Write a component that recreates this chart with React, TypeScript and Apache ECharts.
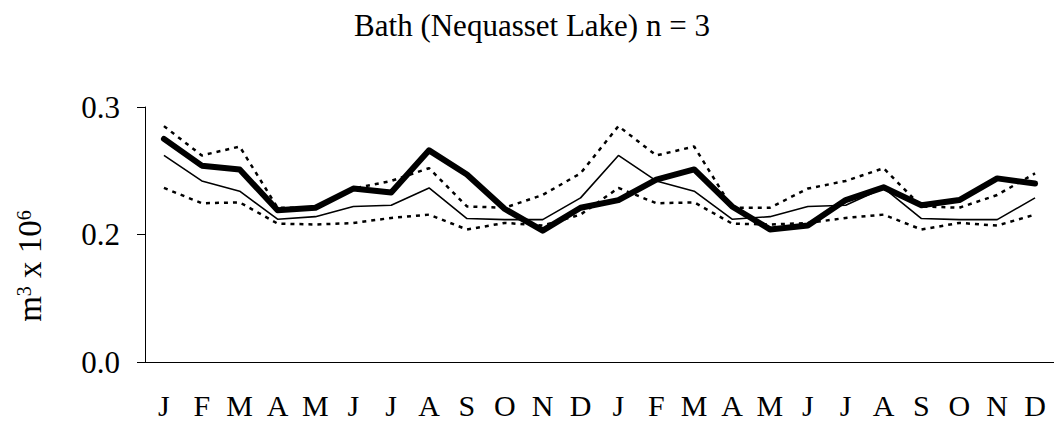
import React, { useEffect, useRef } from "react";
import * as echarts from "echarts";

const months = ["J","F","M","A","M","J","J","A","S","O","N","D","J","F","M","A","M","J","J","A","S","O","N","D"];
const observed = [0.275,0.254,0.251,0.219,0.221,0.236,0.233,0.266,0.247,0.220,0.203,0.221,0.227,0.243,0.251,0.222,0.204,0.207,0.227,0.237,0.223,0.227,0.244,0.240];
const meanVals = [0.262,0.242,0.234,0.212,0.214,0.222,0.223,0.2365,0.2125,0.2117,0.2117,0.2287,0.262,0.242,0.234,0.212,0.214,0.222,0.223,0.2365,0.2125,0.2117,0.2117,0.2287];
const upperVals = [0.285,0.262,0.269,0.221,0.221,0.236,0.242,0.252,0.222,0.221,0.231,0.248,0.285,0.262,0.269,0.221,0.221,0.236,0.242,0.252,0.222,0.221,0.231,0.248];
const lowerVals = [0.2365,0.2245,0.2252,0.2086,0.2078,0.209,0.213,0.2156,0.2039,0.2091,0.207,0.2156,0.2365,0.2245,0.2252,0.2086,0.2078,0.209,0.213,0.2156,0.2039,0.2091,0.207,0.2156];
const yTickLabels: Record<string, string> = { "0.1": "0.0", "0.2": "0.2", "0.3": "0.3" };

const FONT = "'Liberation Serif', 'Times New Roman', serif";

export default function App() {
  const ref = useRef<HTMLDivElement>(null);
  useEffect(() => {
    if (!ref.current) return;
    const chart = echarts.init(ref.current, null, { renderer: "svg" });
    const dotted = (data: number[]) => ({
      type: "line",
      data,
      symbol: "none",
      lineStyle: { color: "#000", width: 2.5, type: [4, 5] },
      z: 2,
    });
    chart.setOption({
      animation: false,
      backgroundColor: "#fff",
      title: {
        text: "Bath (Nequasset Lake) n = 3",
        left: 527,
        textAlign: "center",
        top: 5,
        textStyle: { fontFamily: FONT, fontSize: 31, fontWeight: "normal", color: "#000" },
      },
      grid: { left: 145, top: 107, width: 912, height: 255 },
      xAxis: {
        type: "category",
        data: months,
        boundaryGap: true,
        axisLine: { lineStyle: { color: "#000", width: 1 } },
        axisTick: { length: 9, lineStyle: { color: "#000" }, alignWithLabel: false },
        axisLabel: { color: "#000", fontFamily: FONT, fontSize: 30, margin: 28, interval: 0 },
      },
      yAxis: {
        type: "value",
        min: 0.1,
        max: 0.3,
        interval: 0.1,
        splitLine: { show: false },
        axisLine: { show: true, lineStyle: { color: "#000", width: 1 } },
        axisTick: { show: true, length: 8, lineStyle: { color: "#000" } },
        axisLabel: {
          color: "#000",
          fontFamily: FONT,
          fontSize: 31,
          margin: 25,
          formatter: (v: number) => yTickLabels[v.toFixed(1)] ?? "",
        },
      },
      graphic: [
        {
          type: "text",
          x: 30,
          y: 266,
          rotation: Math.PI / 2,
          style: {
            text: "m{sup|3} x 10{sup|6}",
            font: `33px ${FONT}`,
            fill: "#000",
            align: "center",
            verticalAlign: "middle",
            rich: {
              sup: { fontSize: 20, fontFamily: FONT, verticalAlign: "top", fill: "#000" },
            },
          },
        },
      ],
      series: [
        dotted(upperVals),
        dotted(lowerVals),
        {
          type: "line",
          data: meanVals,
          symbol: "none",
          lineStyle: { color: "#000", width: 1.6 },
          z: 3,
        },
        {
          type: "line",
          data: observed,
          symbol: "none",
          lineStyle: { color: "#000", width: 6, cap: "round", join: "round" },
          z: 4,
        },
      ],
    });
    return () => chart.dispose();
  }, []);
  return (
    <div
      ref={ref}
      style={{ position: "fixed", left: 0, top: 0, width: 1054, height: 425, background: "#fff" }}
    />
  );
}
